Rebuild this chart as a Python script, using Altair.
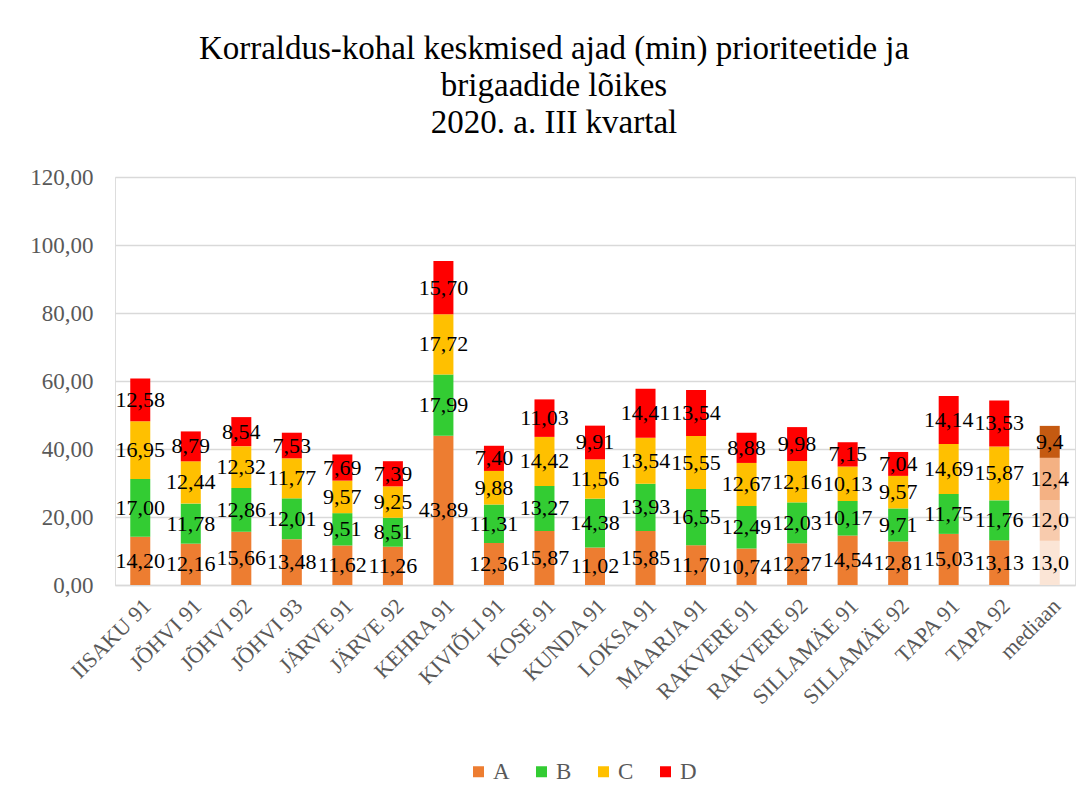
import altair as alt
import pandas as pd

categories = ["IISAKU 91", "JÕHVI 91", "JÕHVI 92", "JÕHVI 93", "JÄRVE 91", "JÄRVE 92",
              "KEHRA 91", "KIVIÕLI 91", "KOSE 91", "KUNDA 91", "LOKSA 91", "MAARJA 91",
              "RAKVERE 91", "RAKVERE 92", "SILLAMÄE 91", "SILLAMÄE 92", "TAPA 91", "TAPA 92",
              "mediaan"]
series = ["A", "B", "C", "D"]
vals_A = [14.20, 12.16, 15.66, 13.48, 11.62, 11.26, 43.89, 12.36, 15.87, 11.02, 15.85, 11.70,
          10.74, 12.27, 14.54, 12.81, 15.03, 13.13, 13.0]
vals_B = [17.00, 11.78, 12.86, 12.01, 9.51, 8.51, 17.99, 11.31, 13.27, 14.38, 13.93, 16.55,
          12.49, 12.03, 10.17, 9.71, 11.75, 11.76, 12.0]
vals_C = [16.95, 12.44, 12.32, 11.77, 9.57, 9.25, 17.72, 9.88, 14.42, 11.56, 13.54, 15.55,
          12.67, 12.16, 10.13, 9.57, 14.69, 15.87, 12.4]
vals_D = [12.58, 8.79, 8.54, 7.53, 7.69, 7.39, 15.70, 7.40, 11.03, 9.91, 14.41, 13.54,
          8.88, 9.98, 7.15, 7.04, 14.14, 13.53, 9.4]
y_ticks = [0, 20, 40, 60, 80, 100, 120]

colors = ["#ED7D31", "#33CC33", "#FFC000", "#FF0000"]
median_colors = ["#FBE5D6", "#F8CBAD", "#F4B183", "#C55A11"]

rows = []
for s_i, (s, vals) in enumerate(zip(series, [vals_A, vals_B, vals_C, vals_D])):
    for c_i, (c, v) in enumerate(zip(categories, vals)):
        is_med = c == "mediaan"
        lab = (f"{v:.1f}" if is_med else f"{v:.2f}").replace(".", ",")
        rows.append({"cat": c, "series": s, "key": ("m" + s) if is_med else s,
                     "ord": s_i, "value": v, "label": lab})
df = pd.DataFrame(rows)

FONT = "Liberation Serif"
GREY = "#595959"

base = alt.Chart(df).transform_stack(
    stack="value", groupby=["cat"], sort=[alt.SortField("ord", order="ascending")],
    as_=["y0", "y1"]
).transform_calculate(mid="(datum.y0 + datum.y1) / 2")

xenc = alt.X("cat:N", sort=categories, title=None,
             axis=alt.Axis(labelAngle=-45, ticks=False, labelFont=FONT, labelFontSize=22,
                           labelColor=GREY, labelPadding=10, domainColor="#D9D9D9",
                           domainWidth=1.5, labelOverlap=False))

bars = base.mark_bar(size=20).encode(
    x=xenc,
    y=alt.Y("y1:Q", title=None, scale=alt.Scale(domain=[0, 120], nice=False),
            axis=alt.Axis(values=y_ticks, ticks=False, domain=False, labelFont=FONT,
                          labelFontSize=23, labelColor=GREY, labelPadding=22,
                          gridColor="#D9D9D9", gridWidth=1.5,
                          labelExpr="replace(format(datum.value, '.2f'), '.', ',')")),
    y2="y0:Q",
    color=alt.Color("key:N",
                    scale=alt.Scale(domain=series + ["m" + s for s in series],
                                    range=colors + median_colors),
                    legend=alt.Legend(values=series, title=None, orient="none",
                                      direction="horizontal", legendX=352, legendY=583,
                                      symbolType="square", symbolSize=121,
                                      symbolStrokeWidth=0, labelFont=FONT,
                                      labelFontSize=23, labelColor=GREY, labelOffset=3,
                                      columnPadding=20)),
)

texts = base.mark_text(font=FONT, fontSize=22, color="#000000", baseline="middle",
                       align="center").encode(
    x=alt.X("cat:N", sort=categories),
    y=alt.Y("mid:Q"),
    text="label:N",
)

chart = alt.layer(bars, texts).properties(
    width=960, height=408,
    title=alt.TitleParams(
        text=["Korraldus-kohal keskmised ajad (min) prioriteetide ja",
              "brigaadide lõikes", "2020. a. III kvartal"],
        font=FONT, fontSize=33, fontWeight="normal", color="#000000",
        anchor="middle", frame="group", dx=-41, offset=26, lineHeight=37),
    autosize=alt.AutoSizeParams(type="none"),
    padding={"left": 107, "top": 169, "right": 8, "bottom": 200},
).configure_view(stroke=None).configure(background="white", font=FONT).configure_text(font=FONT)

chart.save("out.html", embed_options={"renderer": "svg", "actions": False})
